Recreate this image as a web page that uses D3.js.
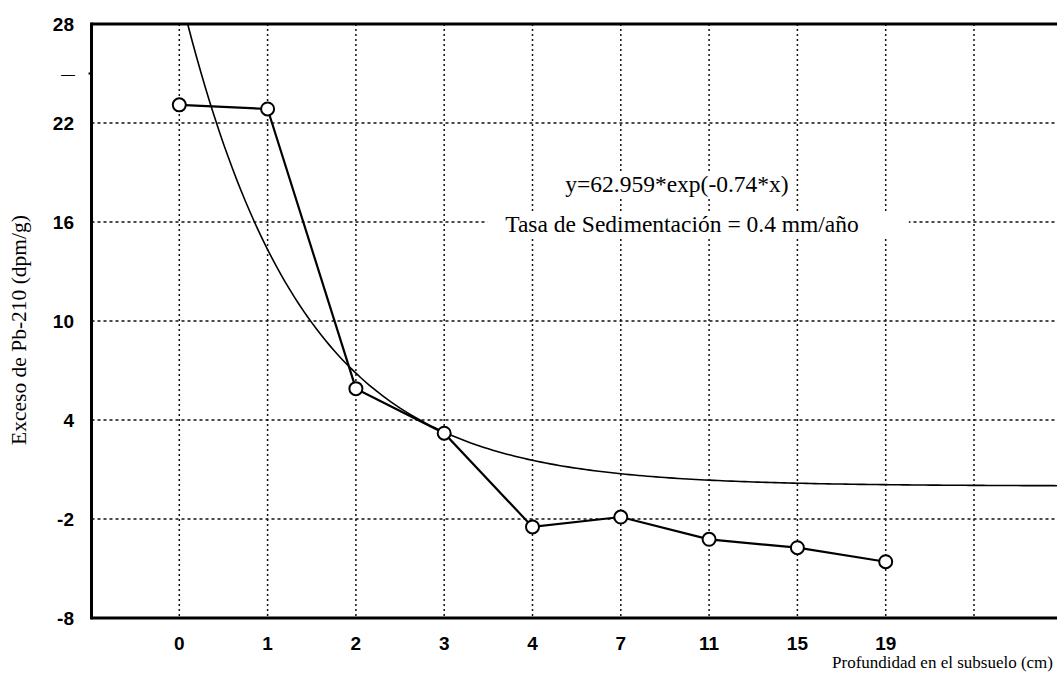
<!DOCTYPE html>
<html>
<head>
<meta charset="utf-8">
<script src="https://cdn.jsdelivr.net/npm/d3@7"></script>
<style>
  html, body { margin: 0; padding: 0; background: #fff; }
  svg { display: block; }
</style>
</head>
<body>
<svg id="chart" width="1057" height="677"></svg>
<script>
// Sample depths (cm), plotted at evenly spaced positions
const depths = ["0", "1", "2", "3", "4", "7", "11", "15", "19"];
// Excess Pb-210 activity (dpm/g) at each depth
const excessPb = [23.1, 22.85, 5.9, 3.2, -2.48, -1.88, -3.23, -3.74, -4.59];
// Exponential fit: y = fitA * exp(-fitK * x), x = sample number (1..n)
const fitA = 62.959;
const fitK = 0.74;
// Y axis ticks and their labels
const yTicks = [28, 25, 22, 16, 10, 4, -2, -8];
const yTickLabels = ["28", "—", "22", "16", "10", "4", "-2", "-8"];
const yGrid = [22, 16, 10, 4, -2];
const xGridCount = 10;

const equationText = "y=62.959*exp(-0.74*x)";
const rateText = "Tasa de Sedimentación = 0.4 mm/año";
const yTitle = "Exceso de Pb-210 (dpm/g)";
const xTitle = "Profundidad en el subsuelo (cm)";

const svg = d3.select("#chart");
const W = 1057, H = 677;
const plotLeft = 91.5, plotTop = 24, plotBottom = 618;

const x = d3.scaleLinear().domain([-1, 10]).range([91, 1062.3]);
const y = d3.scaleLinear().domain([-8, 28]).range([plotBottom, plotTop]);

const tickFont = "'Liberation Sans', Arial, sans-serif";
const serif = "'Liberation Serif', 'Times New Roman', serif";

// Grid
const grid = svg.append("g")
  .attr("stroke", "#111")
  .attr("stroke-width", 1.5)
  .attr("fill", "none");
grid.selectAll("line.h").data(yGrid).join("line")
  .attr("class", "h")
  .attr("x1", plotLeft).attr("x2", W)
  .attr("y1", d => y(d)).attr("y2", d => y(d))
  .attr("stroke-dasharray", "3,3");
grid.selectAll("line.v").data(d3.range(xGridCount)).join("line")
  .attr("class", "v")
  .attr("x1", d => x(d)).attr("x2", d => x(d))
  .attr("y1", plotTop).attr("y2", plotBottom)
  .attr("stroke-dasharray", "2,3");

// Text boxes (white backgrounds cover the grid)
const annot = svg.append("g");
const eq = annot.append("text")
  .attr("x", 677).attr("y", 192)
  .attr("text-anchor", "middle")
  .attr("font-family", serif)
  .attr("font-size", 23.5)
  .text(equationText);
const rate = annot.append("text")
  .attr("x", 682).attr("y", 232)
  .attr("text-anchor", "middle")
  .attr("font-family", serif)
  .attr("font-size", 23.5)
  .text(rateText);
const b1 = eq.node().getBBox();
annot.insert("rect", "text")
  .attr("x", b1.x - 4).attr("y", b1.y + 3)
  .attr("width", b1.width + 8).attr("height", b1.height - 4)
  .attr("fill", "#fff");
const b2 = rate.node().getBBox();
annot.insert("rect", "text")
  .attr("x", b2.x - 18).attr("y", b2.y + 2)
  .attr("width", b2.width + 68).attr("height", b2.height - 2)
  .attr("fill", "#fff");

// Clip for curves
svg.append("clipPath").attr("id", "plotClip")
  .append("rect").attr("x", plotLeft).attr("y", plotTop)
  .attr("width", W - plotLeft).attr("height", plotBottom - plotTop);

// Fitted exponential curve
const fitPts = d3.range(0, 10.01, 0.05).map(t => [t, fitA * Math.exp(-fitK * (t + 1))]);
svg.append("path")
  .datum(fitPts)
  .attr("clip-path", "url(#plotClip)")
  .attr("fill", "none")
  .attr("stroke", "#000")
  .attr("stroke-width", 1.6)
  .attr("d", d3.line().x(d => x(d[0])).y(d => y(d[1])));

// Measured data
const data = excessPb.map((v, i) => ({ i, v }));
svg.append("path")
  .datum(data)
  .attr("fill", "none")
  .attr("stroke", "#000")
  .attr("stroke-width", 2.2)
  .attr("d", d3.line().x(d => x(d.i)).y(d => y(d.v)));
svg.selectAll("circle.pt").data(data).join("circle")
  .attr("class", "pt")
  .attr("cx", d => x(d.i)).attr("cy", d => y(d.v))
  .attr("r", 6.5)
  .attr("fill", "#fff")
  .attr("stroke", "#000")
  .attr("stroke-width", 2);

// Frame: left axis, top and bottom
const frame = svg.append("g").attr("stroke", "#000").attr("stroke-width", 3);
frame.append("line").attr("x1", plotLeft).attr("x2", plotLeft).attr("y1", plotTop - 1.5).attr("y2", plotBottom + 1.5);
frame.append("line").attr("x1", plotLeft).attr("x2", W).attr("y1", plotTop).attr("y2", plotTop);
frame.append("line").attr("x1", plotLeft).attr("x2", W).attr("y1", plotBottom).attr("y2", plotBottom);
// Minor tick on the left axis
svg.append("line").attr("x1", plotLeft - 3).attr("x2", plotLeft).attr("y1", y(25)).attr("y2", y(25))
  .attr("stroke", "#000").attr("stroke-width", 2);

// Y tick labels
svg.append("g").selectAll("text").data(yTicks).join("text")
  .attr("x", (d, i) => yTickLabels[i] === "—" ? 75 : 74)
  .attr("y", d => y(d))
  .attr("dy", "0.36em")
  .attr("text-anchor", "end")
  .attr("font-family", tickFont)
  .attr("font-weight", (d, i) => yTickLabels[i] === "—" ? "normal" : "bold")
  .attr("font-size", (d, i) => yTickLabels[i] === "—" ? 14 : 19)
  .text((d, i) => yTickLabels[i]);

// X tick labels
svg.append("g").selectAll("text").data(depths).join("text")
  .attr("x", (d, i) => x(i))
  .attr("y", 650)
  .attr("text-anchor", "middle")
  .attr("font-family", tickFont)
  .attr("font-weight", "bold")
  .attr("font-size", 19)
  .text(d => d);

// Axis titles
svg.append("text")
  .attr("x", 1053).attr("y", 668)
  .attr("text-anchor", "end")
  .attr("font-family", serif)
  .attr("font-size", 17)
  .text(xTitle);
svg.append("text")
  .attr("transform", "translate(26,330) rotate(-90)")
  .attr("text-anchor", "middle")
  .attr("font-family", serif)
  .attr("font-size", 21.5)
  .text(yTitle);
</script>
</body>
</html>
